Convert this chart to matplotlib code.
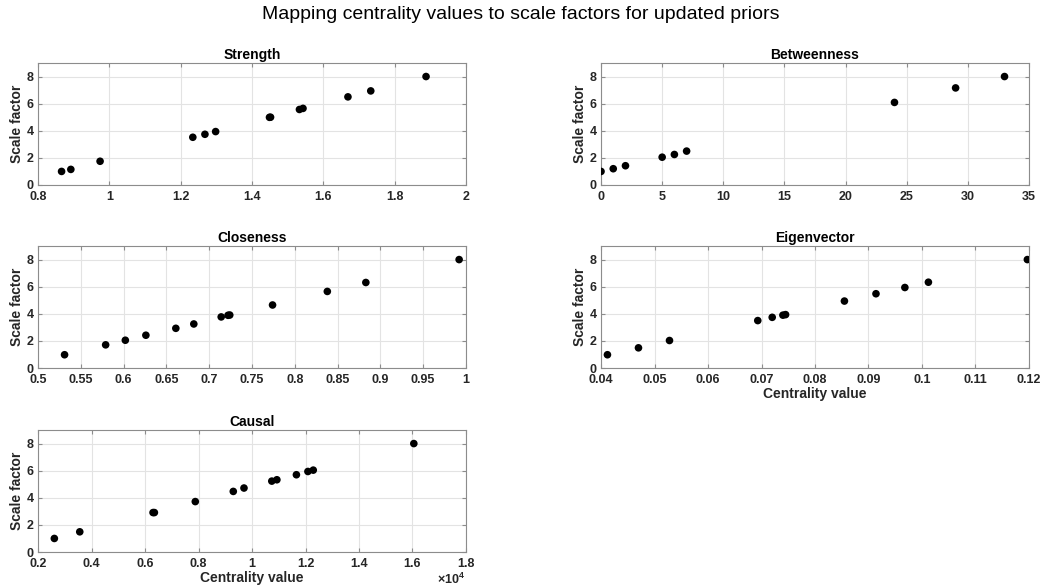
import matplotlib.pyplot as plt
from matplotlib.ticker import FixedLocator

plt.rcParams['font.family'] = ['Liberation Sans', 'DejaVu Sans']
plt.rcParams['mathtext.fontset'] = 'custom'
plt.rcParams['mathtext.rm'] = 'Liberation Sans:bold'
plt.rcParams['mathtext.bf'] = 'Liberation Sans:bold'

# values
strength_x = [0.866, 0.892, 0.974, 1.234, 1.268, 1.298, 1.449, 1.452, 1.533, 1.543, 1.669, 1.733, 1.888]
strength_y = [1.0, 1.15, 1.75, 3.52, 3.74, 3.94, 4.99, 5.0, 5.57, 5.65, 6.5, 6.94, 8.0]

betw_x = [0, 1, 2, 5, 6, 7, 24, 29, 33]
betw_y = [1.0, 1.2, 1.42, 2.05, 2.25, 2.5, 6.09, 7.16, 8.0]

close_x = [0.531, 0.579, 0.602, 0.626, 0.661, 0.682, 0.714, 0.722, 0.724, 0.774, 0.838, 0.883, 0.992]
close_y = [0.98, 1.71, 2.05, 2.42, 2.93, 3.25, 3.77, 3.89, 3.91, 4.65, 5.65, 6.31, 8.0]

eig_x = [0.0412, 0.047, 0.0528, 0.0693, 0.072, 0.0740, 0.0745, 0.0855, 0.0914, 0.0968, 0.1012, 0.1197]
eig_y = [0.98, 1.49, 2.03, 3.5, 3.74, 3.9, 3.94, 4.94, 5.48, 5.94, 6.33, 8.0]

causal_x = [2610, 3560, 6300, 6350, 7880, 9300, 9700, 10740, 10930, 11660, 12090, 12290, 16050]
causal_y = [1.0, 1.49, 2.91, 2.91, 3.72, 4.47, 4.72, 5.23, 5.33, 5.70, 5.94, 6.04, 8.0]

fig = plt.figure(figsize=(10.42, 5.88), dpi=100)
fig.suptitle('Mapping centrality values to scale factors for updated priors',
             y=0.99, fontsize=14)

W, H = 0.4107, 0.2075
L1, L2 = 0.0365, 0.5768
panels = [
    ('Strength', strength_x, strength_y, (L1, 0.6854), (0.8, 2), [0.8, 1, 1.2, 1.4, 1.6, 1.8, 2], ['0.8', '1', '1.2', '1.4', '1.6', '1.8', '2'], False),
    ('Betweenness', betw_x, betw_y, (L2, 0.6854), (0, 35), list(range(0, 36, 5)), [str(v) for v in range(0, 36, 5)], False),
    ('Closeness', close_x, close_y, (L1, 0.3741), (0.5, 1), [0.5, 0.55, 0.6, 0.65, 0.7, 0.75, 0.8, 0.85, 0.9, 0.95, 1],
     ['0.5', '0.55', '0.6', '0.65', '0.7', '0.75', '0.8', '0.85', '0.9', '0.95', '1'], False),
    ('Eigenvector', eig_x, eig_y, (L2, 0.3741), (0.04, 0.12), [0.04, 0.05, 0.06, 0.07, 0.08, 0.09, 0.1, 0.11, 0.12],
     ['0.04', '0.05', '0.06', '0.07', '0.08', '0.09', '0.1', '0.11', '0.12'], True),
    ('Causal', causal_x, causal_y, (L1, 0.0612), (2000, 18000), [2000, 4000, 6000, 8000, 10000, 12000, 14000, 16000, 18000],
     ['0.2', '0.4', '0.6', '0.8', '1', '1.2', '1.4', '1.6', '1.8'], True),
]

for name, xs, ys, (left, bottom), xlim, xt, xtl, show_xlabel in panels:
    ax = fig.add_axes([left, bottom, W, H])
    ax.scatter(xs, ys, s=30, color='black', zorder=3, edgecolors='none')
    ax.set_xlim(*xlim)
    ax.set_ylim(0, 9)
    ax.xaxis.set_major_locator(FixedLocator(xt))
    ax.set_xticklabels(xtl)
    ax.set_yticks([0, 2, 4, 6, 8])
    ax.grid(True, color='#e3e3e3', linewidth=0.8)
    ax.set_axisbelow(True)
    for s in ax.spines.values():
        s.set_color('#8c8c8c')
        s.set_linewidth(0.8)
    ax.tick_params(direction='in', length=3, color='#8c8c8c', labelsize=9,
                   labelcolor='#262626', top=True, right=True)
    ax.tick_params(axis='x', pad=4)
    ax.tick_params(axis='y', pad=3)
    for lab in ax.get_xticklabels() + ax.get_yticklabels():
        lab.set_fontweight('bold')
    ax.set_title(name, fontsize=10, fontweight='bold', pad=3)
    ax.set_ylabel('Scale factor', fontsize=10, fontweight='bold', color='#262626', labelpad=2)
    if show_xlabel:
        ax.set_xlabel('Centrality value', fontsize=10, fontweight='bold', color='#262626', labelpad=1)

# exponent of the Causal x axis, as MATLAB puts it under the last tick
fig.text(0.446, 0.002, r'$\times$10$^{4}$', ha='right', va='bottom',
         fontsize=9, fontweight='bold', color='#262626')

fig.savefig('out.png', dpi=100)
